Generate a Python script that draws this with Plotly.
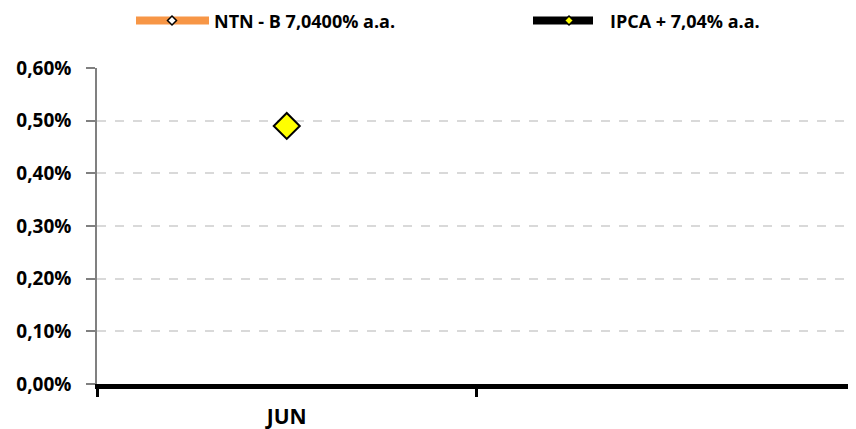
import plotly.graph_objects as go

categories = ["JUN", " "]
ntnb_values = [None, None]
ipca_values = [0.0049, None]
y_ticks = [0, 0.001, 0.002, 0.003, 0.004, 0.005, 0.006]
legend_names = ["NTN - B 7,0400% a.a.", "IPCA + 7,04% a.a."]

FONT = "Open Sans"
OFF = 8  # page body margin
W, H = 848, 421
L, R, T, B = 89, 0, 60, 45
PW, PH = W - L - R, H - T - B


def px2paper_x(px):
    return (px - OFF - L) / PW


def px2paper_y(py):
    return (H - B - (py - OFF)) / PH


fig = go.Figure()
fig.add_trace(go.Scatter(
    x=categories, y=ntnb_values, name=legend_names[0],
    mode="lines+markers", showlegend=False,
    line=dict(color="#F79646", width=5),
    marker=dict(symbol="diamond", size=8, color="white", line=dict(color="black", width=1.5)),
))
fig.add_trace(go.Scatter(
    x=categories, y=ipca_values, name=legend_names[1],
    mode="lines+markers", showlegend=False,
    line=dict(color="black", width=5),
    marker=dict(symbol="diamond", size=20, color="#FFFF00", line=dict(color="black", width=2)),
))

# manual legend
legend_items = [
    dict(x0=136, x1=209, xm=172, tx=212, line="#F79646", fill="white"),
    dict(x0=533, x1=593, xm=569, tx=608, line="black", fill="#FFFF00"),
]
ly = 20.5
shapes = []
annotations = []
for item, name in zip(legend_items, legend_names):
    shapes.append(dict(type="line", xref="paper", yref="paper",
                       x0=px2paper_x(item["x0"]), x1=px2paper_x(item["x1"]),
                       y0=px2paper_y(ly), y1=px2paper_y(ly),
                       line=dict(color=item["line"], width=8)))
    shapes.append(dict(type="path", xref="paper", yref="paper",
                       xsizemode="pixel", ysizemode="pixel",
                       xanchor=px2paper_x(item["xm"]), yanchor=px2paper_y(ly),
                       path="M-4.5,0 L0,4.5 L4.5,0 L0,-4.5 Z",
                       fillcolor=item["fill"], line=dict(color="black", width=1.5)))
    annotations.append(dict(text=name, xref="paper", yref="paper",
                            x=px2paper_x(item["tx"]), y=px2paper_y(ly),
                            xanchor="left", yanchor="middle", showarrow=False,
                            font=dict(family=FONT, size=18, color="black", weight="bold")))

fig.update_layout(
    width=W, height=H,
    margin=dict(l=L, r=R, t=T, b=B),
    paper_bgcolor="white", plot_bgcolor="white",
    separators=",.",
    font=dict(family=FONT, size=14, color="black"),
    showlegend=False,
    shapes=shapes, annotations=annotations,
    xaxis=dict(
        type="category", range=[-0.5, 1.5], automargin=False,
        showline=True, linecolor="black", linewidth=5,
        ticks="outside", tickson="boundaries", ticklen=8, tickwidth=3, tickcolor="black",
        ticklabelstandoff=10,
        showgrid=False, zeroline=False,
        tickfont=dict(family=FONT, size=21, color="black", weight="bold"),
    ),
    yaxis=dict(
        range=[0, 0.006], tickvals=y_ticks, tickformat=".2%", automargin=False,
        showline=True, linecolor="#808080", linewidth=1.5,
        ticks="outside", ticklen=9, tickcolor="#808080", tickwidth=1.5,
        ticklabelstandoff=11,
        showgrid=True, gridcolor="#D9D9D9", gridwidth=1.5, griddash="dash",
        zeroline=False,
        tickfont=dict(family=FONT, size=19, color="black", weight="bold"),
    ),
)
fig.write_html("out.html")
